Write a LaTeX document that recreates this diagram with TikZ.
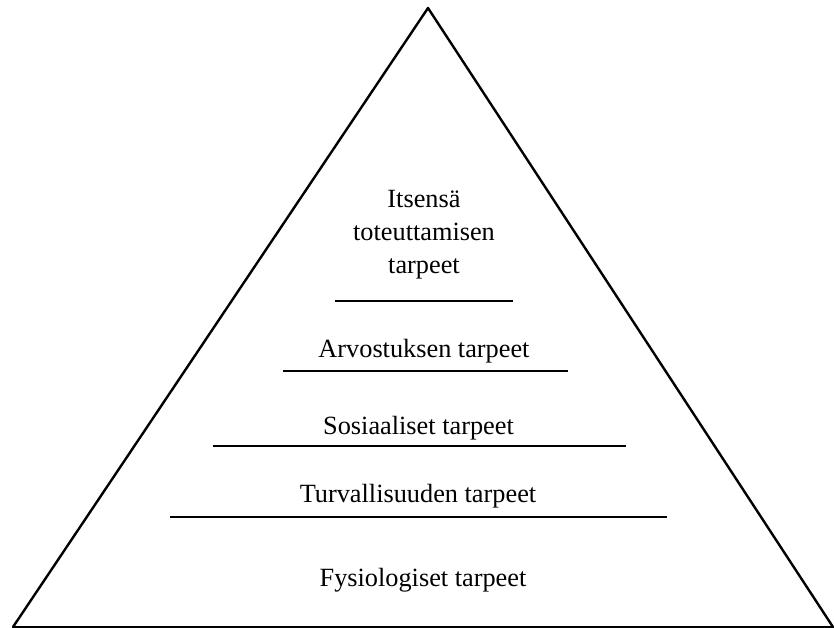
\documentclass[tikz,border=0pt]{standalone}
\usepackage{fontspec}
\setmainfont{Liberation Serif}
\begin{document}
\begin{tikzpicture}[x=0.5bp,y=-0.5bp,line cap=round,line join=round,line width=1.2bp,
	level/.style={anchor=base,inner sep=0pt,font=\fontsize{13.2}{16.6}\selectfont}]
	\useasboundingbox (0,0) rectangle (834,628);
	% pyramid
	\draw (13,627)--(428,8)--(833,627);
	\draw[line width=0.8bp,line cap=butt] (13,627)--(834,627);
	% level borders
	\draw[line cap=butt] (335,301)--(513,301) (283,371)--(568,371)
	(213,446)--(626,446) (170,517)--(667,517);
	% texts
	\node[level,align=center] (self) at (424,274) {Itsensä\\toteuttamisen\\tarpeet};
	\node[level] (esteem) at (424,357) {Arvostuksen tarpeet};
	\node[level] (social) at (418.5,434) {Sosiaaliset tarpeet};
	\node[level] (safety) at (418,502) {Turvallisuuden tarpeet};
	\node[level] (body) at (423,586) {Fysiologiset tarpeet};
\end{tikzpicture}
\end{document}
